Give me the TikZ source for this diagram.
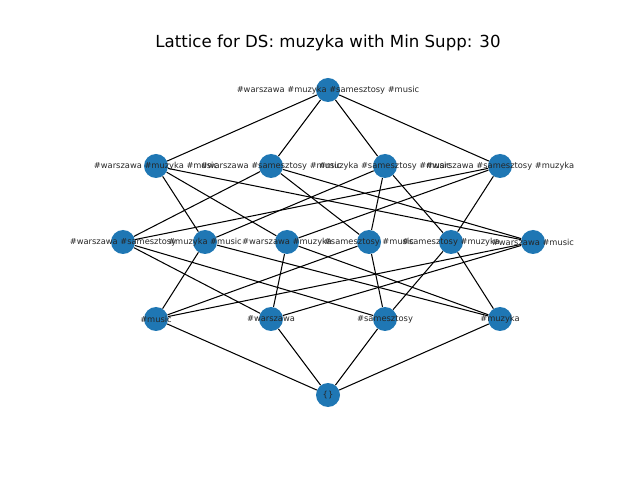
\documentclass[tikz,border=0pt]{standalone}
\usepackage{fontspec}
\setmainfont{DejaVu Sans}
\usepackage{xcolor}
\usepackage{tikz}
\definecolor{nodeblue}{HTML}{1F77B4}

\begin{document}
\begin{tikzpicture}[
    x=0.254mm, y=-0.254mm,
    item/.style={circle, fill=nodeblue, draw=none, minimum size=24*0.254mm, inner sep=0pt},
    lbl/.style={inner sep=0pt, font=\fontsize{6}{7}\selectfont, text=black!85},
    edge/.style={draw=black, line width=0.75pt}
]
    \useasboundingbox (0,0) rectangle (640,480);

    % title
    \node[font=\fontsize{12}{14}\selectfont] (title) at (328,43) {Lattice for DS: muzyka with Min Supp: 30};

    % top
    \node[item] (top) at (328,90) {};

    % three items
    \node[item] (wmum) at (156,166) {};
    \node[item] (wsm)  at (271,166) {};
    \node[item] (msm)  at (385,166) {};
    \node[item] (wsmu) at (500,166) {};

    % two items
    \node[item] (ws)  at (123,242) {};
    \node[item] (mum) at (205,242) {};
    \node[item] (wmu) at (287,242) {};
    \node[item] (sm)  at (369,242) {};
    \node[item] (smu) at (451,242) {};
    \node[item] (wm)  at (533,242) {};

    % single items
    \node[item] (m)  at (156,319) {};
    \node[item] (w)  at (271,319) {};
    \node[item] (s)  at (385,319) {};
    \node[item] (mu) at (500,319) {};

    % empty set
    \node[item] (empty) at (328,395) {};

    % edges
    \draw[edge] (top) -- (wmum);
    \draw[edge] (top) -- (wsm);
    \draw[edge] (top) -- (msm);
    \draw[edge] (top) -- (wsmu);

    \draw[edge] (wmum) -- (mum);
    \draw[edge] (wmum) -- (wmu);
    \draw[edge] (wmum) -- (wm);
    \draw[edge] (wsm) -- (ws);
    \draw[edge] (wsm) -- (sm);
    \draw[edge] (wsm) -- (wm);
    \draw[edge] (msm) -- (mum);
    \draw[edge] (msm) -- (sm);
    \draw[edge] (msm) -- (smu);
    \draw[edge] (wsmu) -- (ws);
    \draw[edge] (wsmu) -- (wmu);
    \draw[edge] (wsmu) -- (smu);

    \draw[edge] (ws) -- (w);
    \draw[edge] (ws) -- (s);
    \draw[edge] (mum) -- (m);
    \draw[edge] (mum) -- (mu);
    \draw[edge] (wmu) -- (w);
    \draw[edge] (wmu) -- (mu);
    \draw[edge] (sm) -- (s);
    \draw[edge] (sm) -- (m);
    \draw[edge] (smu) -- (s);
    \draw[edge] (smu) -- (mu);
    \draw[edge] (wm) -- (w);
    \draw[edge] (wm) -- (m);

    \draw[edge] (m) -- (empty);
    \draw[edge] (w) -- (empty);
    \draw[edge] (s) -- (empty);
    \draw[edge] (mu) -- (empty);

    % labels
    \node[lbl] (top-t)  at (top)  {\#warszawa \#muzyka \#samesztosy \#music};
    \node[lbl] (wmum-t) at (wmum) {\#warszawa \#muzyka \#music};
    \node[lbl] (wsm-t)  at (wsm)  {\#warszawa \#samesztosy \#music};
    \node[lbl] (msm-t)  at (msm)  {\#muzyka \#samesztosy \#music};
    \node[lbl] (wsmu-t) at (wsmu) {\#warszawa \#samesztosy \#muzyka};
    \node[lbl] (ws-t)   at (ws)   {\#warszawa \#samesztosy};
    \node[lbl] (mum-t)  at (mum)  {\#muzyka \#music};
    \node[lbl] (wmu-t)  at (wmu)  {\#warszawa \#muzyka};
    \node[lbl] (sm-t)   at (sm)   {\#samesztosy \#music};
    \node[lbl] (smu-t)  at (smu)  {\#samesztosy \#muzyka};
    \node[lbl] (wm-t)   at (wm)   {\#warszawa \#music};
    \node[lbl] (m-t)    at (m)    {\#music};
    \node[lbl] (w-t)    at (w)    {\#warszawa};
    \node[lbl] (s-t)    at (s)    {\#samesztosy};
    \node[lbl] (mu-t)   at (mu)   {\#muzyka};
    \node[lbl] (empty-t) at (empty) {\{\}};
\end{tikzpicture}
\end{document}
